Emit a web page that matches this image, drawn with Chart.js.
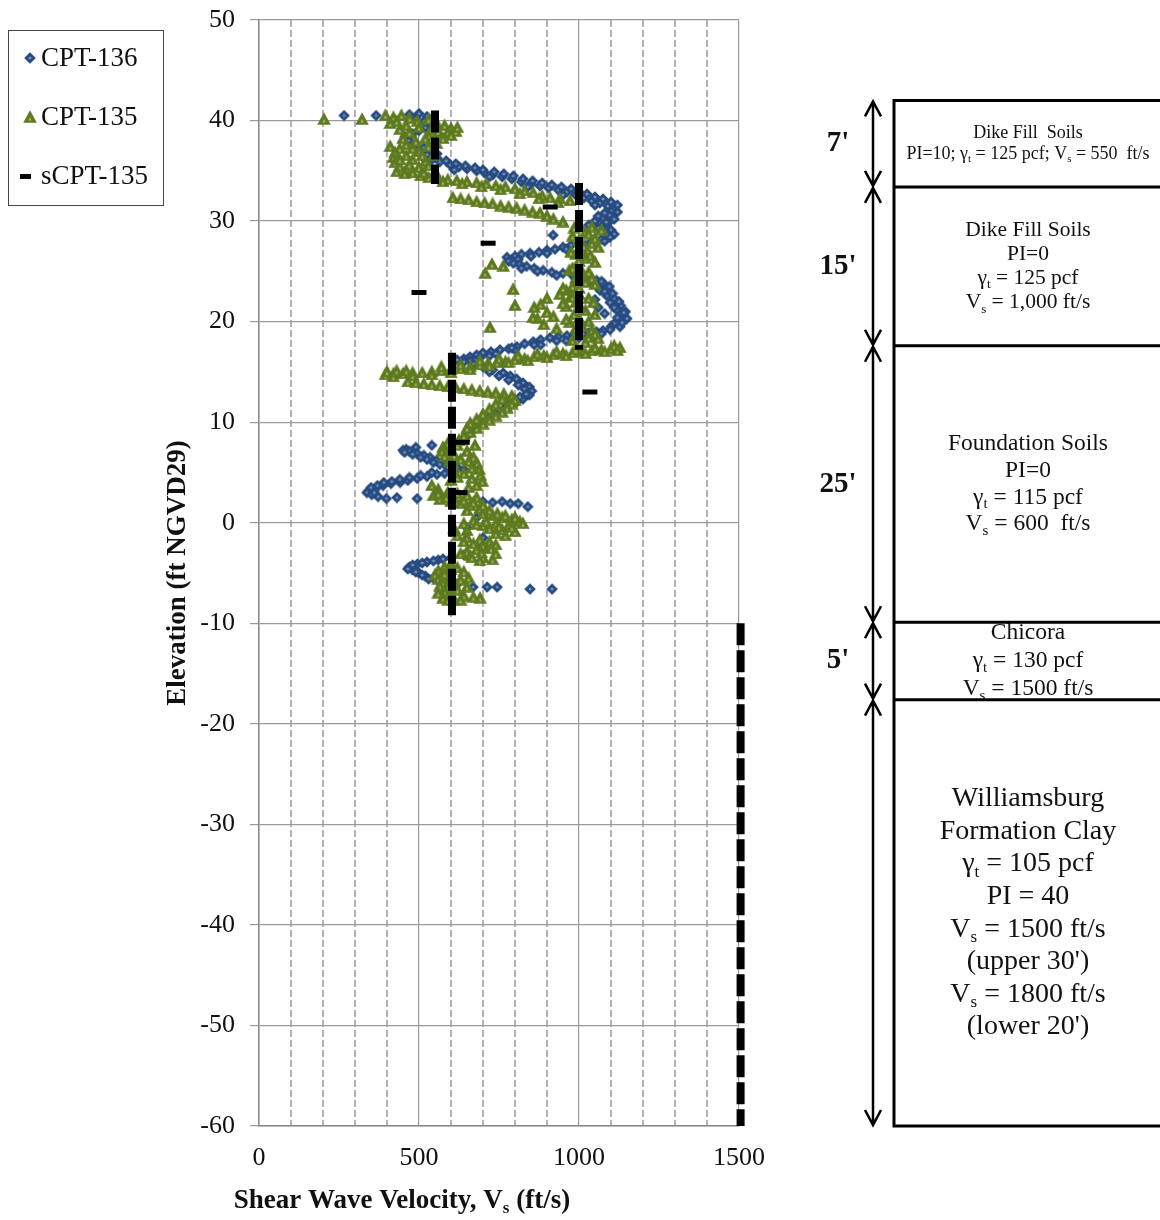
<!DOCTYPE html>
<html>
<head>
<meta charset="utf-8">
<title>Shear Wave Velocity Profile</title>
<script src="https://cdn.jsdelivr.net/npm/chart.js@4.4.0/dist/chart.umd.min.js"></script>
<style>
  html, body { margin: 0; padding: 0; background: #fff; }
  canvas { display: block; }
</style>
</head>
<body>
<canvas id="vsChart" width="1160" height="1220"></canvas>
<script>
// CPT-136 readings [Vs (ft/s), elevation (ft)]
const cpt136 = [
  [266,40.5],[366,40.5],
  [470,40.6],[500,40.7],[525,40.4],[490,40.2],[515,39.9],[540,39.6],[520,39.3],[500,39.0],[480,38.7],[456,38.4],[468,38.0],[490,37.6],[515,37.3],[545,37.1],[556,36.7],[530,36.5],
  [514,36.3],[540,36.1],[565,35.9],[597,35.6],[625,35.4],[650,35.2],[680,35.0],[705,34.8],[730,34.6],[760,34.4],[790,34.2],[820,33.9],[850,33.7],[878,33.5],[905,33.3],[935,33.1],[962,32.9],[990,32.6],[1015,32.3],[1040,32.0],[1065,31.8],[1090,31.5],[1110,31.2],[1120,30.9],
  [525,36.6],[555,36.3],[585,36.0],[615,35.7],[645,35.5],[675,35.3],[700,35.1],[735,34.9],[765,34.7],[795,34.5],[825,34.2],[855,34.0],[885,33.8],[915,33.6],[945,33.4],[975,33.2],[1000,32.9],[1025,32.7],[1050,32.4],[1075,32.2],[1100,31.9],[1120,31.6],
  [610,35.1],[720,34.4],[840,33.4],[950,32.6],[1050,31.6],[1100,31.0],
  [1095,30.6],[1075,30.3],[1050,30.0],[1090,29.8],[1070,29.5],[1030,29.6],[1100,29.1],[919,28.6],
  [1080,30.8],[1060,30.5],[1110,30.2],[1085,29.9],[1060,29.3],[1080,29.0],[1110,28.7],
  [1097,28.4],[1070,28.2],[1040,28.0],[1003,27.8],[975,27.6],[950,27.4],[925,27.2],[900,27.1],[875,26.9],[847,26.8],[820,26.7],[800,26.5],[775,26.4],[790,26.1],
  [1080,28.0],[1020,27.6],[960,27.2],[900,26.8],[850,26.5],[810,26.2],[780,26.0],
  [795,25.8],[815,25.7],[836,25.5],[860,25.3],[888,25.1],[915,24.9],[950,24.8],[980,24.6],[1013,24.4],[1035,24.2],[1055,24.1],[1076,23.8],[1060,23.4],[1066,23.1],[1086,22.6],[1110,22.3],[1097,21.9],[1130,21.6],[1118,21.2],[1145,21.0],[1138,20.6],[1150,20.3],[1128,20.0],[1110,19.8],[1128,19.5],[1080,20.8],[1060,21.4],[1050,22.2],
  [820,25.3],[870,25.0],[930,24.6],[990,24.3],[1040,23.9],
  [1070,24.0],[1095,23.5],[1080,23.0],[1105,22.8],[1125,22.0],[1110,21.4],[1140,20.9],[1120,20.4],[1135,19.9],[1100,19.5],
  [1097,19.2],[1075,19.1],[1055,19.0],[1030,18.9],[1013,18.8],[985,18.7],[962,18.6],[935,18.5],[909,18.4],[880,18.2],[857,18.0],[830,17.8],[806,17.5],[780,17.3],[753,17.2],[725,17.0],[700,16.9],[680,16.7],[659,16.5],[640,16.3],[619,16.2],
  [1050,18.5],[960,18.1],[880,17.7],[800,17.2],[720,16.6],[660,16.1],
  [1070,18.8],[1000,18.4],[930,18.1],[860,17.7],[790,17.4],[740,16.8],[690,16.4],
  [640,16.0],[670,15.8],[700,15.5],[730,15.2],[763,14.9],[785,14.6],[805,14.3],[825,13.9],[845,13.5],[852,13.1],[845,12.7],[825,12.3],[805,12.0],[784,11.7],
  [720,15.0],[750,14.6],[780,14.2],[810,13.7],[830,13.3],[835,12.8],[815,12.5],[790,12.2],[770,11.9],
  [765,11.3],[740,10.9],[715,10.5],[695,10.0],[680,9.6],[665,9.1],[650,8.6],[638,8.2],[600,8.0],[540,7.7],[490,7.5],[460,7.3],[450,7.2],[470,7.1],[494,6.9],[515,6.7],[534,6.5],[555,6.2],[575,6.0],[598,5.8],[619,5.5],[640,5.3],
  [455,7.0],[480,6.8],[505,6.5],[525,6.3],[545,6.0],[565,5.8],[590,5.5],
  [610,5.1],[580,4.9],[556,4.8],[525,4.6],[494,4.4],[465,4.2],[441,4.0],[412,3.9],[388,3.7],[365,3.4],[345,3.2],[337,3.0],[352,2.8],[372,2.6],[398,2.4],[431,2.5],[494,2.4],
  [540,5.0],[505,4.7],[470,4.5],[440,4.3],[415,4.1],[390,4.0],[370,3.7],[350,3.5],[360,3.0],
  [700,2.1],[730,2.0],[760,2.1],[785,1.9],[810,1.9],[840,1.6],
  [680,0.5],[650,-0.5],[700,-1.5],[690,-2.5],[640,-3.2],
  [600,-3.5],[560,-3.7],[525,-3.9],[495,-4.1],[470,-4.4],[480,-4.7],[500,-5.0],[520,-5.3],[545,-5.5],[575,-5.7],[600,-5.9],[620,-6.1],
  [575,-3.6],[545,-3.8],[510,-4.0],[480,-4.2],[465,-4.6],[490,-4.9],[510,-5.2],[530,-5.6],[560,-5.8],[590,-6.0],
  [669,-6.4],[713,-6.4],[744,-6.4],[847,-6.6],[916,-6.6]
];

// CPT-135 readings [Vs (ft/s), elevation (ft)]
const cpt135 = [
  [203,40.2],[322,40.2],
  [395,40.6],[420,40.4],[445,40.6],[470,40.3],[495,40.0],[530,40.2],[555,39.8],[580,39.6],[600,39.3],[615,39.0],[590,38.9],[560,38.7],[530,38.6],[430,40.0],[460,39.6],[500,39.4],[540,39.2],
  [410,39.8],[440,39.2],[470,38.9],[450,38.3],[560,39.0],[575,38.3],[600,38.6],[620,39.4],
  [520,38.3],[490,38.0],[460,37.7],[440,37.3],[425,36.9],[420,36.4],[425,35.9],[440,35.5],[460,35.2],[480,34.9],[505,34.6],[530,34.4],[500,37.0],[530,37.5],[480,36.2],[520,36.0],[550,35.0],[555,37.8],[545,36.6],[460,36.6],
  [480,37.3],[510,36.6],[440,36.2],[470,35.7],[500,35.4],[530,35.6],[455,34.8],[430,35.0],[410,37.5],[515,34.9],
  [560,34.3],[590,34.2],[618,34.1],[650,34.0],[680,33.9],[710,33.8],[740,33.6],[770,33.5],[800,33.3],[830,33.1],[857,32.9],[885,32.6],[910,32.4],[940,32.3],[972,32.1],
  [575,34.0],[635,33.8],[695,33.5],[755,33.2],[815,32.8],[875,32.3],[935,31.9],
  [606,32.4],[630,32.3],[655,32.2],[680,32.0],[705,31.9],[730,31.8],[755,31.6],[780,31.5],[805,31.4],[830,31.2],[855,31.0],[878,30.9],[900,30.6],[920,30.3],[950,30.0],
  [1000,29.8],[1040,29.5],[1070,29.2],[1020,29.0],[980,28.6],[1000,28.2],[1040,27.9],[1060,27.5],[1010,27.2],[990,26.8],[1020,26.4],[1050,26.0],[1000,25.6],[970,25.2],[1010,24.8],[1040,24.4],[1020,24.0],[980,23.6],[960,23.2],[1000,22.8],[1030,22.4],[990,22.0],[960,21.6],[1020,21.2],[1050,20.8],[1000,20.4],[970,20.0],[1010,19.6],[1040,19.2],[1000,18.8],[1060,18.4],[1020,18.0],
  [985,29.4],[1030,28.8],[1050,28.4],[1015,27.6],[975,27.0],[1035,26.7],[1000,26.1],[980,25.4],[1030,25.0],[990,24.4],[1050,23.8],[1000,23.4],[975,22.6],[1045,22.0],[1005,21.5],[985,20.8],[1030,20.1],[990,19.4],[1050,18.9],[1030,18.5],[980,18.2],
  [860,21.5],[880,21.8],[900,21.0],[920,20.6],[870,20.4],[890,19.8],[930,19.4],[950,21.9],[900,22.4],[940,22.8],[950,23.4],[980,22.5],[856,20.5],[960,20.3],
  [707,24.9],[728,25.8],[763,25.6],[794,23.3],[800,21.7],[722,19.5],
  [1128,17.5],[1100,17.4],[1070,17.3],[1040,17.2],[1010,17.1],[980,17.0],[950,16.9],[920,16.8],[890,16.7],[860,16.6],[830,16.4],[800,16.3],[770,16.1],[744,16.0],[715,15.9],[690,15.8],[660,15.6],[630,15.4],[600,15.3],[570,15.2],[540,15.1],[510,15.0],[480,15.0],[450,14.9],[420,14.9],[395,14.8],
  [1110,17.7],[1050,17.5],[990,17.3],[930,17.1],[870,16.9],[810,16.7],[750,16.4],[690,16.2],[630,15.8],[570,15.6],
  [1120,17.2],[1080,17.1],[1020,16.9],[960,16.7],[900,16.5],[840,16.2],[780,16.0],[720,15.7],[660,15.3],[600,15.0],[540,14.8],[480,14.7],[420,14.6],[400,15.1],[430,15.2],[460,15.2],
  [465,14.1],[490,14.0],[515,13.9],[540,13.8],[565,13.7],[590,13.6],[615,13.5],[640,13.4],[665,13.3],[690,13.2],[715,13.1],[740,13.0],[765,12.9],[790,12.7],
  [800,12.3],[790,11.9],[775,11.5],[760,11.1],[740,10.7],[720,10.3],[700,9.9],[680,9.5],[660,9.1],[640,8.7],[625,8.3],[760,12.4],[740,11.9],[720,11.4],[700,10.9],[680,10.4],[660,10.0],[650,9.5],
  [590,8.0],[575,7.6],[572,7.2],[580,6.7],[595,6.2],[620,7.8],[650,7.2],[670,6.6],[681,6.0],[688,5.4],[692,4.8],[698,4.2],[680,3.8],[655,3.6],[610,5.6],
  [600,7.4],[610,6.8],[630,6.4],[655,6.2],[665,5.5],[640,5.0],[620,4.6],[600,4.3],[665,4.5],[675,7.8],
  [540,3.8],[560,3.4],[590,3.1],[620,3.0],[650,2.8],[680,2.6],[545,2.8],[565,2.4],[600,2.2],[630,2.0],[660,1.8],[690,1.5],[650,1.3],[700,1.0],[730,0.8],[760,0.6],[790,0.4],[815,0.2],[780,-0.2],[740,0.0],[700,-0.2],[670,0.3],[720,-0.5],[760,-0.6],[800,-0.8],[650,-0.7],
  [560,3.0],[585,2.6],[610,2.5],[640,2.3],[670,2.1],[700,1.8],[720,1.3],[745,1.0],[770,0.8],[800,0.6],[825,0.0],[790,-0.4],[750,-0.3],[710,0.2],[680,-0.1],[640,0.0],[610,-0.5],[740,-1.0],[770,-1.2],
  [620,-1.2],[650,-1.4],[690,-1.6],[720,-1.8],[740,-2.1],[710,-2.4],[680,-2.6],[650,-2.8],[630,-3.0],[660,-3.2],[700,-3.4],[730,-3.6],
  [640,-1.8],[670,-2.0],[700,-2.2],[725,-2.5],[695,-2.9],[665,-3.4],[690,-3.7],[740,-3.0],
  [600,-4.0],[580,-4.3],[560,-4.7],[550,-5.1],[560,-5.5],[575,-5.9],[590,-6.3],[610,-6.0],[630,-5.6],[650,-6.3],[580,-6.8],[600,-7.1],[575,-7.4],[640,-7.2],[691,-7.4],[610,-7.6],
  [620,-4.4],[640,-4.8],[600,-5.2],[580,-5.0],[565,-6.2],[620,-6.6],[560,-6.9],[590,-7.6],[630,-7.6],[670,-7.3],[600,-4.6],[655,-5.4]
];

// sCPT-135 interval velocities: Vs, top and base elevation of each interval
const sCptVs = [550, 1000, 603, 1505];
const sCptTop = [41.0, 33.8, 16.9, -10.0];
const sCptBase = [33.7, 17.2, -9.2, -60.0];
// sCPT-135 single readings [Vs, elevation]
const sCptSpot = [[910,31.4],[716,27.8],[500,22.9],[1034,13.0],[635,8.0],[628,3.0]];

// axis ticks
const xTicks = [0, 500, 1000, 1500];
const yTicks = [50, 40, 30, 20, 10, 0, -10, -20, -30, -40, -50, -60];

// soil profile drawn on the right (boundary elevations of the schematic)
const profileBounds = [42.0, 33.4, 17.6, -9.9, -17.6, -60.0];
const profileThick = ["7'", "15'", "25'", "5'", ""];
const profileText = [
  ['Dike Fill  Soils', 'PI=10; γ_t = 125 pcf; V_s = 550  ft/s'],
  ['Dike Fill Soils', 'PI=0', 'γ_t = 125 pcf', 'V_s = 1,000 ft/s'],
  ['Foundation Soils', 'PI=0', 'γ_t = 115 pcf', 'V_s = 600  ft/s'],
  ['Chicora', 'γ_t = 130 pcf', 'V_s = 1500 ft/s'],
  ['Williamsburg', 'Formation Clay', 'γ_t = 105 pcf', 'PI = 40', 'V_s = 1500 ft/s', "(upper 30')", 'V_s = 1800 ft/s', "(lower 20')"]
];
const profileFont = [18, 21.5, 23.5, 23.5, 28];
const profileGap = [21, 24.3, 26.7, 28, 32.6];

const serif = '"Liberation Serif", "Times New Roman", serif';

document.addEventListener('DOMContentLoaded', () => {
  // Marker glyphs (dark fill with a light centre, like the spreadsheet markers)
  const makeMarker = (w, h, draw) => {
    const c = document.createElement('canvas');
    c.width = w; c.height = h;
    draw(c.getContext('2d'));
    return c;
  };
  const diamondMark = makeMarker(12, 12, g => {
    g.fillStyle = '#274b80';
    g.beginPath(); g.moveTo(6, 0.2); g.lineTo(11.8, 6); g.lineTo(6, 11.8); g.lineTo(0.2, 6); g.closePath(); g.fill();
    g.fillStyle = '#7593c0';
    g.beginPath(); g.moveTo(6, 4.2); g.lineTo(7.8, 6); g.lineTo(6, 7.8); g.lineTo(4.2, 6); g.closePath(); g.fill();
  });
  const triangleMark = makeMarker(14, 13, g => {
    g.fillStyle = '#5e7a1f';
    g.beginPath(); g.moveTo(7, 0.2); g.lineTo(13.8, 12.8); g.lineTo(0.2, 12.8); g.closePath(); g.fill();
    g.fillStyle = '#a6b66c';
    g.beginPath(); g.moveTo(7, 7); g.lineTo(8.6, 10.6); g.lineTo(5.4, 10.6); g.closePath(); g.fill();
  });

  const toPoints = arr => arr.map(([x, y]) => ({ x, y }));
  const profilePoints = [];
  sCptVs.forEach((vs, i) => {
    profilePoints.push({ x: vs, y: sCptTop[i] }, { x: vs, y: sCptBase[i] }, { x: vs, y: null });
  });

  // Text with "_x" meaning subscript x, centred on cx
  const drawRich = (ctx, str, cx, cy, size, bold) => {
    const parts = str.split(/(_.)/).filter(Boolean)
      .map(p => (p[0] === '_' ? { t: p.slice(1), sub: true } : { t: p, sub: false }));
    const fontFor = p => `${bold ? 'bold ' : ''}${p.sub ? Math.round(size * 0.62) : size}px ${serif}`;
    let total = 0;
    parts.forEach(p => { ctx.font = fontFor(p); p.w = ctx.measureText(p.t).width; total += p.w; });
    let x = cx - total / 2;
    ctx.textAlign = 'left';
    parts.forEach(p => {
      ctx.font = fontFor(p);
      ctx.fillText(p.t, x, p.sub ? cy + size * 0.3 : cy);
      x += p.w;
    });
  };

  const overlay = {
    id: 'overlay',
    afterDraw(chart) {
      const { ctx, chartArea, scales: { y } } = chart;
      ctx.save();
      ctx.fillStyle = '#111';
      ctx.textBaseline = 'middle';

      // Axis titles
      ctx.save();
      ctx.translate(178, (chartArea.top + chartArea.bottom) / 2);
      ctx.rotate(-Math.PI / 2);
      ctx.textAlign = 'center';
      ctx.font = `bold 27px ${serif}`;
      ctx.fillText('Elevation (ft NGVD29)', 0, 0);
      ctx.restore();
      drawRich(ctx, 'Shear Wave Velocity, V_s (ft/s)', 402, 1201, 27, true);

      // Legend box
      ctx.strokeStyle = '#444';
      ctx.lineWidth = 1;
      ctx.strokeRect(8.5, 30.5, 155, 175);
      ctx.drawImage(diamondMark, 24, 52);
      ctx.drawImage(triangleMark, 23, 110);
      ctx.fillStyle = '#000';
      ctx.fillRect(20, 174, 11, 5);
      ctx.fillStyle = '#111';
      ctx.font = `27px ${serif}`;
      ctx.textAlign = 'left';
      ctx.fillText('CPT-136', 41, 59);
      ctx.fillText('CPT-135', 41, 118);
      ctx.fillText('sCPT-135', 41, 177);

      // Soil profile
      const boxLeft = 894;
      const arrowX = 873;
      const ys = profileBounds.map(v => y.getPixelForValue(v));
      profileText.forEach((lines, i) => {
        const mid = (ys[i] + ys[i + 1]) / 2;
        lines.forEach((ln, k) => {
          drawRich(ctx, ln, 1028, mid + (k - (lines.length - 1) / 2) * profileGap[i], profileFont[i], false);
        });
        if (profileThick[i]) {
          ctx.font = `bold 29px ${serif}`;
          ctx.textAlign = 'center';
          ctx.fillText(profileThick[i], 838, mid);
        }
      });

      ctx.strokeStyle = '#000';
      ctx.lineWidth = 2.5;
      ctx.beginPath();
      for (let i = 0; i < ys.length - 1; i++) {
        const top = ys[i] + 1;
        const bot = ys[i + 1] - 1;
        ctx.moveTo(arrowX, top); ctx.lineTo(arrowX, bot);
        ctx.moveTo(arrowX - 8, top + 15); ctx.lineTo(arrowX, top); ctx.lineTo(arrowX + 8, top + 15);
        ctx.moveTo(arrowX - 8, bot - 15); ctx.lineTo(arrowX, bot); ctx.lineTo(arrowX + 8, bot - 15);
      }
      ctx.stroke();

      ctx.lineWidth = 3;
      ctx.beginPath();
      ctx.moveTo(boxLeft, ys[0] - 1.5);
      ctx.lineTo(boxLeft, ys[ys.length - 1] + 1.5);
      ys.forEach(py => { ctx.moveTo(boxLeft, py); ctx.lineTo(1160, py); });
      ctx.stroke();

      ctx.restore();
    }
  };

  const tickFont = { family: serif, size: 26 };

  new Chart(document.getElementById('vsChart'), {
    type: 'scatter',
    data: {
      datasets: [
        { label: 'CPT-136', data: toPoints(cpt136), pointStyle: diamondMark, pointRadius: 6, order: 3 },
        { label: 'CPT-135', data: toPoints(cpt135), pointStyle: triangleMark, pointRadius: 7, order: 2 },
        {
          label: 'sCPT-135', data: profilePoints, showLine: true, spanGaps: false,
          borderColor: '#000', borderWidth: 8, borderDash: [22, 5], borderCapStyle: 'butt',
          pointRadius: 0, clip: false, order: 1
        },
        {
          label: 'sCPT-135 readings', data: toPoints(sCptSpot), pointStyle: 'line',
          pointRadius: 7.5, pointBorderWidth: 5, pointBorderColor: '#000', clip: false, order: 0
        }
      ]
    },
    options: {
      responsive: false,
      animation: false,
      devicePixelRatio: 1,
      events: [],
      layout: { padding: { top: 20, right: 421, bottom: 0, left: 0 } },
      plugins: { legend: { display: false }, tooltip: { enabled: false } },
      scales: {
        x: {
          type: 'linear', min: 0, max: 1500, position: 'bottom',
          afterBuildTicks: s => { s.ticks = xTicks.map(v => ({ value: v })); },
          afterFit: s => { s.height = 94; },
          ticks: { font: tickFont, color: '#111', padding: 17, callback: v => String(v), maxRotation: 0 },
          grid: { color: '#9a9a9a', lineWidth: 1.2, drawTicks: false },
          border: { color: '#8a8a8a', width: 1.5 }
        },
        xMinor: {
          type: 'linear', min: 0, max: 1500, position: 'bottom',
          ticks: { display: false, stepSize: 100 },
          afterFit: s => { s.height = 0; },
          grid: {
            drawTicks: false, lineWidth: 2,
            color: c => (c.tick && c.tick.value % 500 === 0 ? 'rgba(0,0,0,0)' : '#b3b3b3')
          },
          border: { display: false, dash: [7, 3] }
        },
        y: {
          type: 'linear', min: -60, max: 50,
          afterBuildTicks: s => { s.ticks = yTicks.map(v => ({ value: v })); },
          afterFit: s => { s.width = 259; s.paddingTop = 10; s.paddingBottom = 10; },
          ticks: { font: tickFont, color: '#111', padding: 15, callback: v => String(v) },
          grid: { color: '#9a9a9a', lineWidth: 1.2, tickLength: 9 },
          border: { color: '#8a8a8a', width: 1.5 }
        }
      }
    },
    plugins: [overlay]
  });
});
</script>
</body>
</html>
